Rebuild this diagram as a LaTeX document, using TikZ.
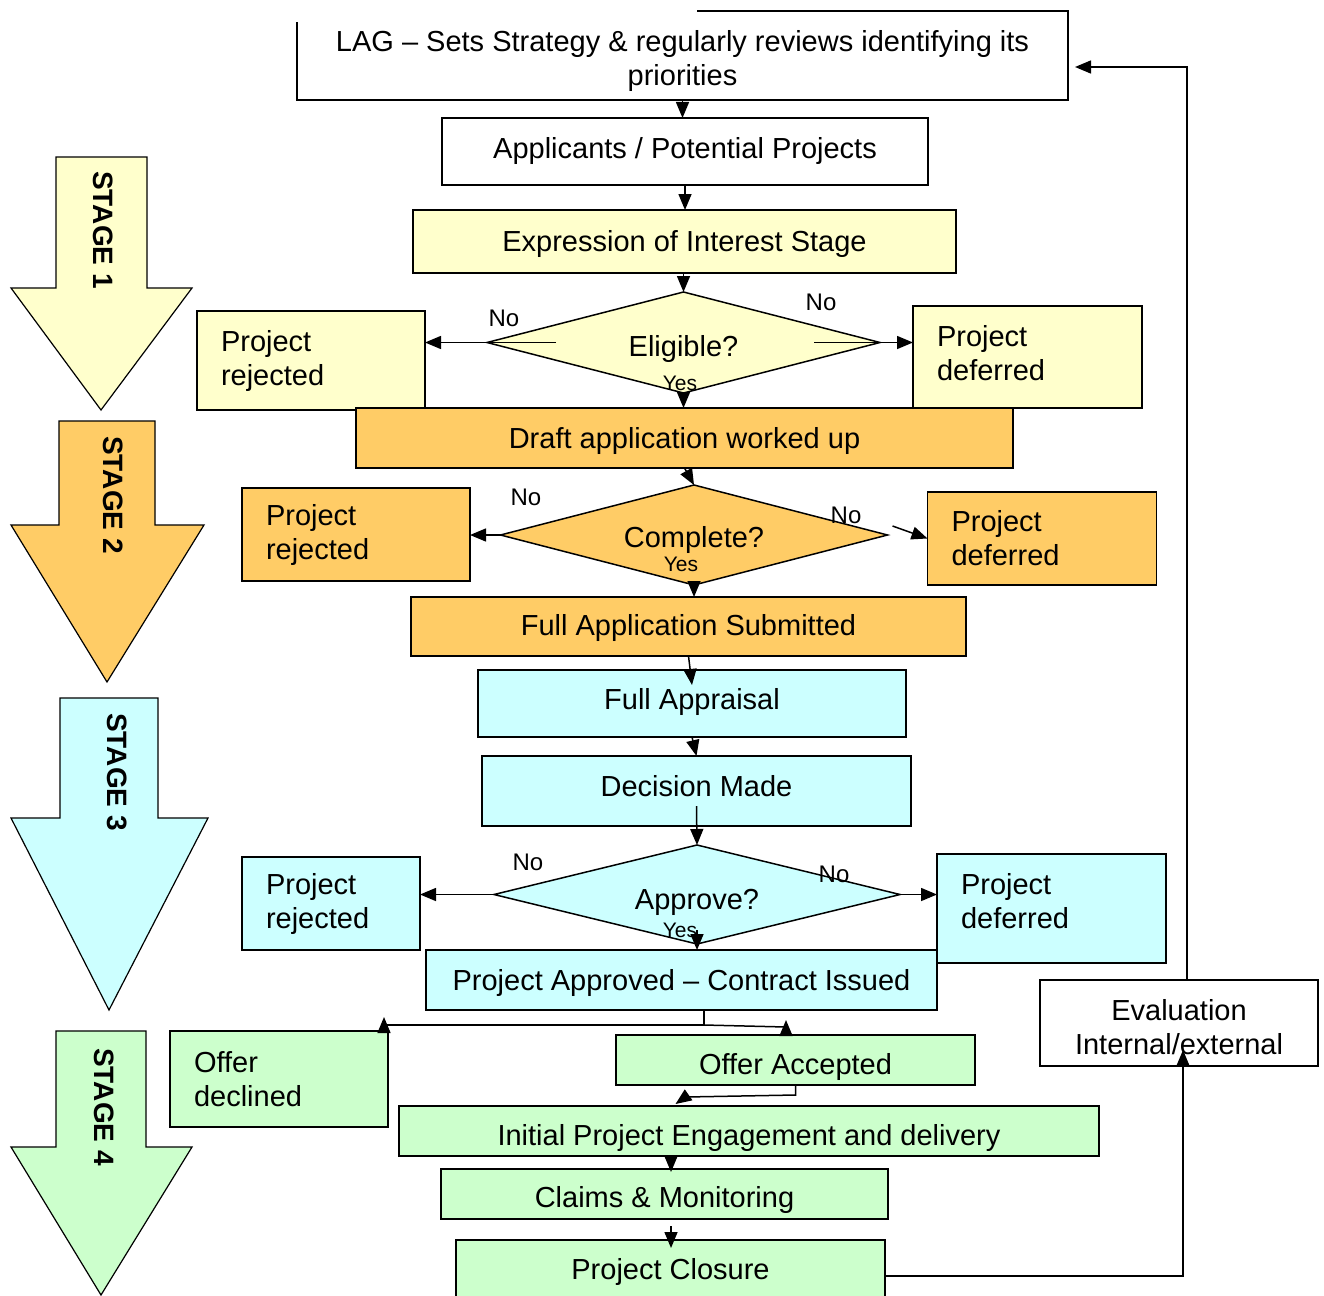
\documentclass[tikz,border=0pt]{standalone}
\usepackage{fontspec}
\setmainfont{Liberation Sans}
\usetikzlibrary{arrows.meta,shapes.geometric,calc}
\definecolor{cyel}{HTML}{FFFFCC}
\definecolor{corg}{HTML}{FFCC66}
\definecolor{ccyn}{HTML}{CCFFFF}
\definecolor{cgrn}{HTML}{CCFFCC}
\newcommand{\tallstrut}[1]{\rule{0pt}{#1}}
\begin{document}
\begin{tikzpicture}[x=1pt,y=-1pt,
  every node/.style={font=\fontsize{29}{34}\selectfont, outer sep=0pt},
  box/.style={draw, line width=1.5pt, inner sep=0pt, anchor=center, align=center},
  lbox/.style={draw, line width=1.5pt, inner ysep=0pt, inner xsep=24pt, anchor=center, align=left},
  dia/.style={draw, diamond, aspect=4, line width=1.5pt, inner sep=0pt},
  arr/.style={line width=1.5pt, -{Triangle[length=16pt,width=13pt]}},
  conn/.style={line width=1.5pt},
  stagearrow/.style={draw, line width=1.2pt},
  stagetext/.style={rotate=-90, font=\fontsize{28}{30}\selectfont\bfseries},
  nolbl/.style={font=\fontsize{24}{26}\selectfont},
  yeslbl/.style={font=\fontsize{21}{23}\selectfont},
  txtup/.style={execute at end node={\rule[-#1]{0pt}{0pt}}},
  txtdn/.style={execute at begin node={\rule{0pt}{#1}}}
]
\useasboundingbox (0,0) rectangle (1324,1295);

% stage arrows
\draw[stagearrow, fill=cyel] (56,157) -- (147,157) -- (147,288) -- (192,288) -- (101,410) -- (11,288) -- (56,288) -- cycle;
\draw[stagearrow, fill=corg] (59,421) -- (155,421) -- (155,525) -- (204,525) -- (107,682) -- (11,525) -- (59,525) -- cycle;
\draw[stagearrow, fill=ccyn] (60,698) -- (158,698) -- (158,818) -- (208,818) -- (109,1010) -- (11,818) -- (60,818) -- cycle;
\draw[stagearrow, fill=cgrn] (56,1031) -- (146,1031) -- (146,1147) -- (192,1147) -- (101,1295) -- (11,1147) -- (56,1147) -- cycle;
\node[stagetext] (s1) at (103,230) {STAGE 1};
\node[stagetext] (s2) at (113,495) {STAGE 2};
\node[stagetext] (s3) at (117,772) {STAGE 3};
\node[stagetext] (s4) at (104,1107) {STAGE 4};

% top box (partly open outline)
\node[inner sep=0pt, minimum width=771pt, minimum height=89pt, align=center] (lag) at (682.5,55.5)
  {\tallstrut{33pt}LAG -- Sets Strategy \& regularly reviews identifying its\\priorities};
\draw[conn] ([xshift=14.5pt]lag.north) -- (lag.north east) -- (lag.south east) -- (lag.south west) -- ([yshift=-11pt]lag.north west);

\node[box, minimum width=486pt, minimum height=67pt] (apps) at (685,151.5) {Applicants / Potential Projects};
\node[box, fill=cyel, minimum width=543pt, minimum height=63pt, txtdn=27pt] (eoi) at (684.5,241.5) {Expression of Interest Stage};

\node[dia, fill=cyel, minimum width=393pt, minimum height=101pt, txtdn=35pt] (elig) at (683.5,342.5) {Eligible?};
\node[lbox, fill=cyel, minimum width=228pt, minimum height=99pt, text width=180pt] (rej1) at (311,360.5) {Project\\rejected};
\node[lbox, fill=cyel, minimum width=229pt, minimum height=102pt, text width=181pt, txtup=8pt] (def1) at (1027.5,357) {Project\\deferred};

\node[box, fill=corg, minimum width=657pt, minimum height=60pt, txtdn=27pt] (draft) at (684.5,438) {Draft application worked up};
\node[dia, fill=corg, minimum width=387pt, minimum height=100pt, txtdn=31pt] (comp) at (694,535) {Complete?};
\node[lbox, fill=corg, minimum width=228pt, minimum height=93pt, text width=180pt] (rej2) at (356,534.5) {Project\\rejected};
\node[lbox, fill=corg, minimum width=228pt, minimum height=93pt, text width=181pt] (def2) at (1042,538.5) {Project\\deferred};
\node[box, fill=corg, minimum width=555pt, minimum height=59pt, txtdn=25pt] (fullapp) at (688.5,626.5) {Full Application Submitted};

\node[box, fill=ccyn, minimum width=428pt, minimum height=67pt, txtup=10pt] (apprais) at (692,703.5) {Full Appraisal};
\node[box, fill=ccyn, minimum width=429pt, minimum height=70pt, txtup=10pt] (dec) at (696.5,791) {Decision Made};
\node[dia, fill=ccyn, minimum width=406pt, minimum height=99pt, txtdn=35pt] (appr) at (697,894.5) {Approve?};
\node[lbox, fill=ccyn, minimum width=178pt, minimum height=93pt, text width=130pt] (rej3) at (331,903.5) {Project\\rejected};
\node[lbox, fill=ccyn, minimum width=229pt, minimum height=109pt, text width=181pt, txtup=16pt] (def3) at (1051.5,908.5) {Project\\deferred};
\node[box, fill=ccyn, minimum width=511pt, minimum height=60pt, txtdn=27pt] (approved) at (681.5,980) {Project Approved -- Contract Issued};

\node[lbox, fill=cgrn, minimum width=216pt, minimum height=96pt, text width=170pt] (declined) at (279,1079) {Offer\\declined};
\node[box, fill=cgrn, minimum width=359pt, minimum height=50pt, txtdn=35pt] (accepted) at (795.5,1060) {Offer Accepted};
\node[box, fill=cgrn, minimum width=700pt, minimum height=50pt, txtdn=35pt] (initial) at (749,1131) {Initial Project Engagement and delivery};
\node[box, fill=cgrn, minimum width=447pt, minimum height=50pt, txtdn=33pt] (claims) at (664.5,1194) {Claims \& Monitoring};
\node[box, fill=cgrn, minimum width=429pt, minimum height=72pt, txtup=14pt] (closure) at (670.5,1276) {Project Closure};
\node[box, fill=white, minimum width=278pt, minimum height=86pt] (eval) at (1179,1023) {\tallstrut{29pt}Evaluation\\Internal/external};

% labels
\node[nolbl] (no1) at (504,318) {No};
\node[nolbl] (no2) at (821,302) {No};
\node[yeslbl] (yes1) at (680,383) {Yes};
\node[nolbl] (no3) at (526,497) {No};
\node[nolbl] (no4) at (846,515) {No};
\node[yeslbl] (yes2) at (681,564) {Yes};
\node[nolbl] (no5) at (528,862) {No};
\node[nolbl] (no6) at (834,874) {No};
\node[yeslbl] (yes3) at (680,930) {Yes};

% connectors
\draw[arr] (lag.south) -- (lag.south |- apps.north);
\draw[arr] (apps.south) -- (apps.south |- eoi.north);
\draw[arr] (eoi.south -| elig.north) -- (elig.north);
\draw[arr] ([xshift=69pt]elig.west) -- (elig.west -| rej1.east);
\draw[arr] ([xshift=-66pt]elig.east) -- (elig.east -| def1.west);
\draw[arr] (elig.south) -- (elig.south |- draft.north);
\draw[arr] (draft.south) -- (comp.north);
\draw[arr] (comp.west) -- (comp.west -| rej2.east);
\draw[arr] ([shift={(5,-9)}]comp.east) -- (def2.west);
\draw[arr] (comp.south) -- (comp.south |- fullapp.north);
\draw[arr] (fullapp.south) -- ([yshift=-15pt]apprais.north);
\draw[arr] (apprais.south) -- (dec.north);
\draw[arr] ([yshift=20pt]dec.south) -- (appr.north);
\draw[arr] (appr.west) -- (appr.west -| rej3.east);
\draw[arr] (appr.east) -- (appr.east -| def3.west);
\draw[arr] ([yshift=14pt]appr.south) -- (appr.south |- approved.north);
\draw[conn] ([xshift=22.5pt]approved.south) -- ++(0,15) coordinate (sp);
\draw[arr] (sp) -- ([shift={(-4,-6)}]declined.north east) -- ++(0,-8);
\draw[arr] (sp) -- ([shift={(-9.5,-8)}]accepted.north) -- ++(0,-7);
\draw[arr] (accepted.south) -- ++(0,10) -- ++(-110,2) -- ([shift={(-120,-2)}]accepted.south |- initial.north);
\draw[arr] ([xshift=6.5pt]claims.north |- initial.south) -- ([xshift=6.5pt,yshift=-3pt]claims.north);
\draw[arr] ([shift={(6.5,7)}]claims.south) -- ([shift={(0.5,8)}]closure.north);
\draw[arr] (closure.east) -| ([shift={(4,-16)}]eval.south);
\draw[arr] ([xshift=8pt]eval.north) |- ([shift={(7,11.5)}]lag.east);
\end{tikzpicture}
\end{document}
